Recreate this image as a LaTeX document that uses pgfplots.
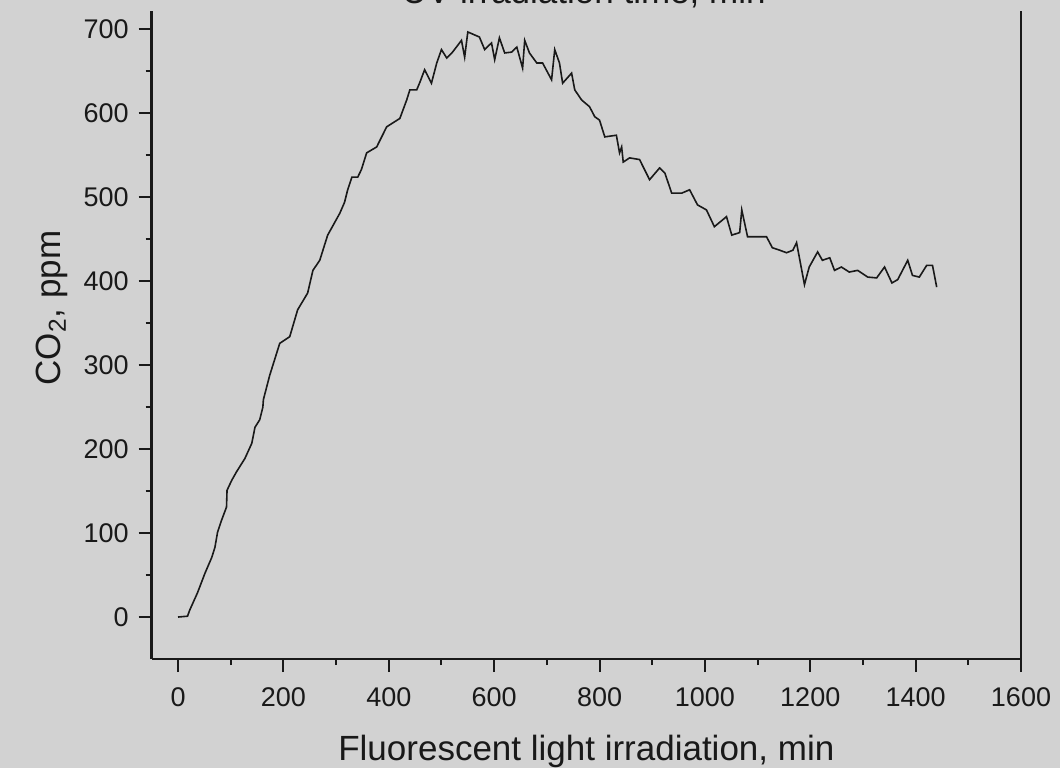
\documentclass[border=0pt]{standalone}
\usepackage{fontspec}
\setmainfont{Liberation Sans}
\usepackage{pgfplots}
\pgfplotsset{compat=1.18}
\definecolor{bg}{RGB}{210,210,210}
\definecolor{ink}{RGB}{25,25,25}
\pgfplotstableread{
x y
0 0
18 1
22 8
37 29
51 52
64 71
70 83
75 101
83 116
92 131
93 151
102 163
111 173
127 189
140 207
146 226
155 235
161 250
162 259
174 288
193 326
212 334
227 366
246 386
256 413
269 425
284 455
307 481
316 494
322 509
330 524
341 524
348 533
358 553
377 560
396 584
421 594
434 616
440 628
453 628
459 637
468 652
481 636
491 660
500 676
510 666
521 673
538 687
544 667
550 697
572 691
582 676
595 684
601 664
610 690
620 672
633 673
643 679
654 654
658 687
667 672
681 660
692 660
709 640
715 676
724 660
730 636
747 648
753 628
766 616
781 608
791 596
800 592
810 572
832 574
838 553
842 560
845 542
857 547
876 545
895 521
914 535
924 529
937 505
956 505
971 509
986 491
1003 485
1018 465
1041 477
1051 455
1066 458
1070 485
1081 453
1098 453
1117 453
1128 440
1142 437
1155 434
1167 437
1174 446
1189 396
1198 417
1214 435
1223 425
1237 428
1246 413
1259 417
1274 411
1290 413
1309 405
1326 404
1341 417
1355 398
1366 402
1385 425
1394 407
1407 405
1421 419
1432 419
1440 393
}\codata
\begin{document}
\begin{tikzpicture}
\fill[bg] (-75.85bp,-54.5bp) rectangle (454.15bp,329.5bp);
\begin{axis}[
  width=434.65bp, height=324bp, scale only axis,
  xmin=-50, xmax=1600, ymin=-50, ymax=722,
  axis x line*=bottom, axis y line*=box, ytick pos=left,
  xtick={0,200,...,1600}, ytick={0,100,...,700},
  minor x tick num=1, minor y tick num=1,
  tick align=outside,
  major tick length=6.5bp, minor tick length=3bp,
  axis line style={ink, line width=1.2bp},
  every tick/.style={ink, line width=1bp},
  /pgf/number format/assume math mode=true,
  /pgf/number format/1000 sep={},
  tick label style={font=\fontsize{13.5bp}{16bp}\selectfont, text=ink},
  xticklabel style={yshift=-4.5bp},
  yticklabel style={xshift=-1.5bp},
  xlabel={Fluorescent light irradiation, min},
  ylabel={CO\textsubscript{2}, ppm},
  title={UV irradiation time, min},
  xlabel style={at={(axis description cs:0.5,-0.156)}, anchor=base, font=\fontsize{17.5bp}{21bp}\selectfont, text=ink},
  ylabel style={at={(axis description cs:-0.1047,0.5417)}, anchor=base, font=\fontsize{17.5bp}{21bp}\selectfont, text=ink},
  title style={at={(axis description cs:0.497,0.9938)}, anchor=base, font=\fontsize{17.5bp}{21bp}\selectfont, text=ink},
]
\addplot[ink, line width=0.8bp] table[x=x,y=y] {\codata};
\end{axis}
\pgfresetboundingbox
\useasboundingbox (-75.85bp,-54.5bp) rectangle (454.15bp,329.5bp);
\end{tikzpicture}
\end{document}
